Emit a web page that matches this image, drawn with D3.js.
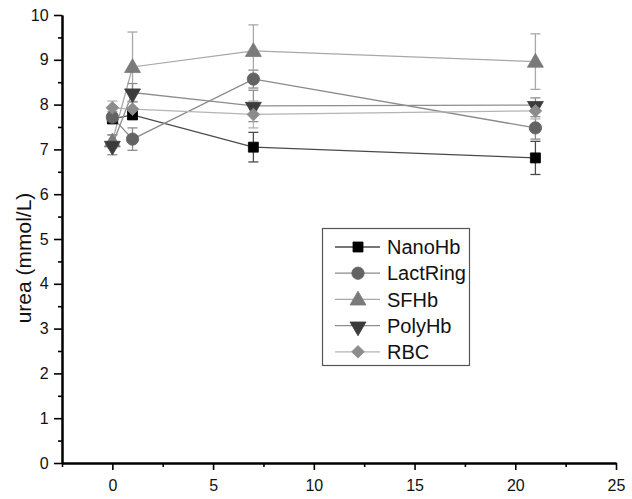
<!DOCTYPE html>
<html>
<head>
<meta charset="utf-8">
<script src="https://cdn.jsdelivr.net/npm/d3@7"></script>
<style>
  body { margin: 0; background: #fff; }
  svg { display: block; font-family: "Liberation Sans", Arial, sans-serif; }
</style>
</head>
<body>
<svg id="chart" width="632" height="499"></svg>
<script>
// ---- data ----
const days = [0, 1, 7, 21];
const seriesNames = ["NanoHb", "LactRing", "SFHb", "PolyHb", "RBC"];
const nanoHb   = [7.68, 7.77, 7.05, 6.81];
const nanoHbErr = [0.10, 0.10, 0.33, 0.37];
const lactRing = [7.72, 7.23, 8.57, 7.48];
const lactRingErr = [0.12, 0.25, 0.20, 0.25];
const sfHb     = [7.18, 8.84, 9.20, 8.96];
const sfHbErr  = [0.15, 0.78, 0.58, 0.62];
const polyHb   = [7.10, 8.27, 7.97, 7.99];
const polyHbErr = [0.22, 0.20, 0.35, 0.16];
const rbc      = [7.93, 7.90, 7.78, 7.86];
const rbcErr   = [0.15, 0.15, 0.30, 0.18];
const xTicks = [0, 5, 10, 15, 20, 25];
const yTicks = [0, 1, 2, 3, 4, 5, 6, 7, 8, 9, 10];
const yLabel = "urea (mmol/L)";

const series = [
  { name: seriesNames[0], v: nanoHb,   e: nanoHbErr,   sym: "square",   fill: "#000000", line: "#4a4a4a" },
  { name: seriesNames[1], v: lactRing, e: lactRingErr, sym: "circle",   fill: "#636363", line: "#8a8a8a" },
  { name: seriesNames[2], v: sfHb,     e: sfHbErr,     sym: "triangle", fill: "#7a7a7a", line: "#a8a8a8" },
  { name: seriesNames[3], v: polyHb,   e: polyHbErr,   sym: "down",     fill: "#3c3c3c", line: "#8e8e8e" },
  { name: seriesNames[4], v: rbc,      e: rbcErr,      sym: "diamond",  fill: "#8c8c8c", line: "#b4b4b4" }
];

// ---- layout ----
const svg = d3.select("#chart");
const x = d3.scaleLinear().domain([-2.5, 25]).range([62, 616]);
const y = d3.scaleLinear().domain([0, 10]).range([463, 15]);

// axes
const xAxis = d3.axisBottom(x).tickValues(xTicks).tickSize(7).tickSizeOuter(0).tickFormat(d3.format("d"));
const xMinor = d3.axisBottom(x).tickValues(d3.range(-2.5, 25, 2.5).filter(d => !xTicks.includes(d))).tickSize(4).tickSizeOuter(0).tickFormat("");
const yAxis = d3.axisLeft(y).tickValues(yTicks).tickSize(8).tickSizeOuter(0).tickFormat(d3.format("d"));
const yMinor = d3.axisLeft(y).tickValues(d3.range(0.5, 10, 1)).tickSize(4).tickSizeOuter(0).tickFormat("");

function styleAxis(g) {
  g.select(".domain").attr("stroke", "#000").attr("stroke-width", 2);
  g.selectAll(".tick line").attr("stroke", "#000").attr("stroke-width", 1.6);
  g.selectAll(".tick text").attr("font-size", 16).attr("fill", "#111")
    .attr("font-family", "Liberation Sans, Arial, sans-serif");
}

svg.append("g").attr("transform", "translate(0,463)").call(xMinor).call(styleAxis);
svg.append("g").attr("transform", "translate(0,463)").call(xAxis).call(styleAxis)
  .selectAll(".tick text").attr("dy", "1.1em");
svg.append("g").attr("transform", "translate(62,0)").call(yMinor).call(styleAxis);
svg.append("g").attr("transform", "translate(62,0)").call(yAxis).call(styleAxis)
  .selectAll(".tick text").attr("dx", "-0.15em");

svg.append("text")
  .attr("transform", "translate(31,258) rotate(-90)")
  .attr("text-anchor", "middle")
  .attr("font-size", 21)
  .attr("fill", "#111")
  .text(yLabel);

// symbols
const symType = { square: d3.symbolSquare, circle: d3.symbolCircle, triangle: d3.symbolTriangle, down: d3.symbolTriangle, diamond: d3.symbolSquare };
const symSize = { square: 100, circle: 120, triangle: 110, down: 110, diamond: 80 };
function symbolPath(s) { return d3.symbol().type(symType[s]).size(symSize[s])(); }
function symbolTransform(s, px, py) {
  if (s === "down") return `translate(${px},${py + 1}) rotate(180)`;
  if (s === "triangle") return `translate(${px},${py + 1})`;
  if (s === "diamond") return `translate(${px},${py}) rotate(45)`;
  return `translate(${px},${py})`;
}

const line = d3.line().x((d, i) => x(days[i])).y(d => y(d));

// lines and error bars
series.forEach(s => {
  svg.append("path").datum(s.v).attr("d", line)
    .attr("fill", "none").attr("stroke", s.line).attr("stroke-width", 1.3);
  const g = svg.append("g").attr("stroke", s.line).attr("stroke-width", 1.3);
  days.forEach((d, i) => {
    const px = x(d), top = y(s.v[i] + s.e[i]), bot = y(s.v[i] - s.e[i]);
    g.append("line").attr("x1", px).attr("x2", px).attr("y1", top).attr("y2", bot);
    g.append("line").attr("x1", px - 5).attr("x2", px + 5).attr("y1", top).attr("y2", top);
    g.append("line").attr("x1", px - 5).attr("x2", px + 5).attr("y1", bot).attr("y2", bot);
  });
});

// markers
series.forEach(s => {
  days.forEach((d, i) => {
    svg.append("path").attr("d", symbolPath(s.sym))
      .attr("transform", symbolTransform(s.sym, x(d), y(s.v[i])))
      .attr("fill", s.fill).attr("stroke", s.fill).attr("stroke-width", 0.8);
  });
});

// legend
const lg = svg.append("g");
lg.append("rect").attr("x", 322.5).attr("y", 228.5).attr("width", 147).attr("height", 137)
  .attr("fill", "#fff").attr("stroke", "#555").attr("stroke-width", 1.2);
series.forEach((s, i) => {
  const cy = 247 + i * 26.2;
  lg.append("line").attr("x1", 335).attr("x2", 380).attr("y1", cy).attr("y2", cy)
    .attr("stroke", s.line).attr("stroke-width", 1.3);
  lg.append("path").attr("d", symbolPath(s.sym))
    .attr("transform", symbolTransform(s.sym, 358, cy))
    .attr("fill", s.fill).attr("stroke", s.fill).attr("stroke-width", 0.8);
  lg.append("text").attr("x", 387).attr("y", cy).attr("dy", "0.36em")
    .attr("font-size", 20).attr("fill", "#111").text(s.name);
});
</script>
</body>
</html>
